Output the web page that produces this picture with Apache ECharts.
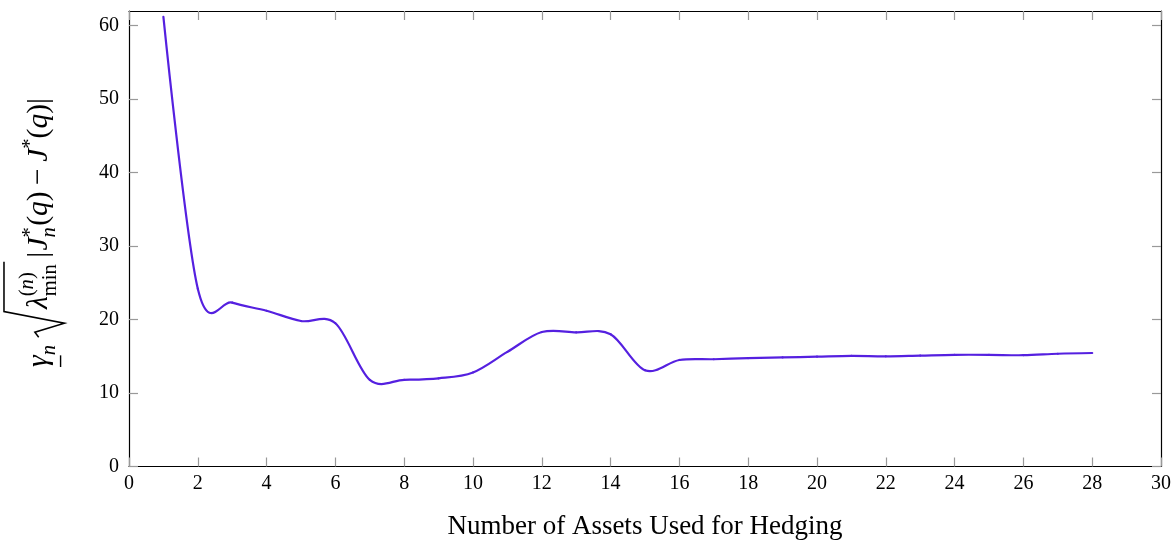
<!DOCTYPE html>
<html>
<head>
<meta charset="utf-8">
<script src="https://cdn.jsdelivr.net/npm/echarts@6/dist/echarts.min.js"></script>
<style>
  html, body { margin: 0; padding: 0; background: #fff; }
  #chart { width: 1176px; height: 540px; }
</style>
</head>
<body>
<div id="chart"></div>
<script>
// data
const assets = [1, 2, 3, 4, 5, 6, 7, 8, 9, 10, 11, 12, 13, 14, 15, 16, 17, 18, 19, 20, 21, 22, 23, 24, 25, 26, 27, 28];
const hedgeError = [61.2, 24.2, 22.3, 21.2, 19.8, 19.5, 11.8, 11.8, 12.0, 12.8, 15.6, 18.3, 18.25, 18.0,
                    13.1, 14.5, 14.6, 14.75, 14.85, 14.95, 15.05, 15.0, 15.1, 15.2, 15.2, 15.15, 15.35, 15.45];
const yTickValues = [0, 10, 20, 30, 40, 50, 60];
const xTitle = 'Number of Assets Used for Hedging';

const serif = '"Liberation Serif", "DejaVu Serif", serif';
const lineColor = '#5520e0';
const tickGray = '#999';
const smoothK = 1 / 6;   // like pgfplots "smooth"

// --- y axis title: built by hand (sqrt, sub/superscripts), then rotated ---
const measureCtx = document.createElement('canvas').getContext('2d');
function textWidth(t, size, italic) {
    measureCtx.font = (italic ? 'italic ' : '') + size + 'px ' + serif;
    return measureCtx.measureText(t).width;
}

function buildYTitle() {
    const S = 23, s = 16;
    const kids = [];
    let x = 0;
    function put(t, size, italic, base, advance) {
        kids.push({
            type: 'text', x: x, y: base - 0.34 * size,
            style: { text: t, fontFamily: serif, fontSize: size, fontStyle: italic ? 'italic' : 'normal',
                     fill: '#000', align: 'left', verticalAlign: 'middle' }
        });
        const w = textWidth(t, size, italic);
        if (advance !== false) x += w;
        return w;
    }
    // gamma with underline, sub n
    const gx = x;
    const gw = put('γ', S, true, 0);
    kids.push({ type: 'line', shape: { x1: gx, y1: 9, x2: gx + gw, y2: 9 }, style: { stroke: '#000', lineWidth: 1.1 } });
    put('n', s, true, 6);
    x += 6;
    // radical
    const r0 = x;
    x += 22;
    put('λ', S, true, 0);
    const supX = x;
    const w1 = put('(', s, false, -11) + put('n', s, true, -11) + put(')', s, false, -11);
    x = supX;
    const w2 = put('min', s, false, 7, false);
    x = supX + Math.max(w1, w2) + 2;
    kids.push({
        type: 'polyline',
        shape: { points: [[r0, -8], [r0 + 4, -11], [r0 + 11, 12], [r0 + 20, -35], [x, -35]] },
        style: { stroke: '#000', lineWidth: 1.2, fill: null }
    });
    x += 3;
    put('|', S, false, 0);
    x += 1;
    put('J', S, true, 0);
    put('*', s, false, -9, false);
    put('n', s, true, 6);
    x += 1;
    put('(', S, false, 0); put('q', S, true, 0); put(')', S, false, 0);
    x += 5;
    put('−', S, false, 0);
    x += 5;
    put('J', S, true, 0);
    put('*', s, false, -9);
    put('(', S, false, 0); put('q', S, true, 0); put(')', S, false, 0);
    put('|', S, false, 0);
    return { kids: kids, len: x };
}

const yt = buildYTitle();
const titleBottom = 367, titleTop = 98;
const titleScale = (titleBottom - titleTop) / yt.len;

// one bezier segment per data point, control points from the neighbours
function renderSmooth(params, api) {
    const i = params.dataIndex;
    if (i >= assets.length - 1) return null;
    const c = j => api.coord([assets[j], hedgeError[j]]);
    const p0 = c(i), p3 = c(i + 1);
    const prev = i > 0 ? c(i - 1) : p0;
    const next = i + 2 < assets.length ? c(i + 2) : p3;
    const k0 = i > 0 ? smoothK : 0;
    const k1 = i + 2 < assets.length ? smoothK : 0;
    return {
        type: 'bezierCurve',
        shape: {
            x1: p0[0], y1: p0[1], x2: p3[0], y2: p3[1],
            cpx1: p0[0] + k0 * (p3[0] - prev[0]), cpy1: p0[1] + k0 * (p3[1] - prev[1]),
            cpx2: p3[0] - k1 * (next[0] - p0[0]), cpy2: p3[1] - k1 * (next[1] - p0[1])
        },
        style: { stroke: lineColor, lineWidth: 2.2, fill: null, lineCap: 'round' }
    };
}

const chart = echarts.init(document.getElementById('chart'));

const axisLineStyle = { onZero: false, lineStyle: { color: '#000', width: 1.2 } };
const axisTickStyle = { inside: true, length: 9, lineStyle: { color: tickGray, width: 1.2 } };
const labelStyle = { color: '#000', fontFamily: serif, fontSize: 20 };

chart.setOption({
    animation: false,
    grid: { left: 129, right: 15, top: 11, bottom: 73.5, outerBoundsMode: 'none' },
    xAxis: [{
        type: 'value', min: 0, max: 30, interval: 2, position: 'bottom',
        axisLine: axisLineStyle, axisTick: axisTickStyle,
        axisLabel: Object.assign({ margin: 7 }, labelStyle),
        splitLine: { show: false },
        name: xTitle, nameLocation: 'middle', nameGap: 47,
        nameTextStyle: { color: '#000', fontFamily: serif, fontSize: 27 }
    }, {
        type: 'value', min: 0, max: 30, interval: 2, position: 'top',
        axisLine: axisLineStyle, axisTick: axisTickStyle,
        axisLabel: { show: false }, splitLine: { show: false }
    }],
    yAxis: [{
        type: 'value', min: 0, max: 62, interval: 10, position: 'left',
        axisLine: axisLineStyle,
        axisTick: Object.assign({ customValues: yTickValues }, axisTickStyle),
        axisLabel: Object.assign({ margin: 10, customValues: yTickValues }, labelStyle),
        splitLine: { show: false }
    }, {
        type: 'value', min: 0, max: 62, interval: 10, position: 'right',
        axisLine: axisLineStyle,
        axisTick: Object.assign({ customValues: yTickValues }, axisTickStyle),
        axisLabel: { show: false }, splitLine: { show: false }
    }],
    graphic: [{
        type: 'group', x: 49, y: titleBottom, rotation: Math.PI / 2,
        scaleX: titleScale, scaleY: titleScale,
        children: yt.kids
    }],
    series: [{
        type: 'custom',
        xAxisIndex: 0, yAxisIndex: 0,
        data: assets.map((a, i) => [a, hedgeError[i]]),
        renderItem: renderSmooth
    }]
});
</script>
</body>
</html>
